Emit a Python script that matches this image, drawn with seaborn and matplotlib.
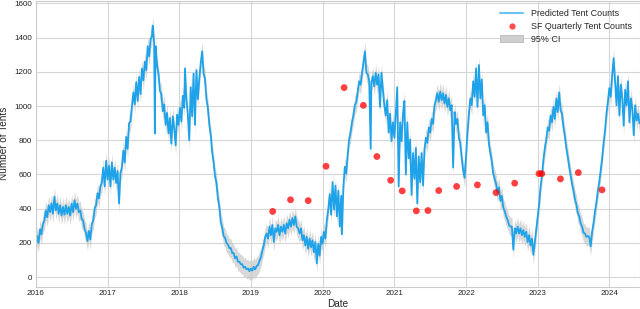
import matplotlib
matplotlib.use("Agg")
import matplotlib.pyplot as plt
import matplotlib.dates as mdates
from matplotlib.lines import Line2D
from matplotlib.patches import Patch
import seaborn as sns
import numpy as np
import pandas as pd

# ---- data ----
pred_years = [
    2016.00, 2016.02, 2016.04, 2016.06, 2016.08, 2016.10, 2016.12, 2016.14, 2016.16, 2016.18,
    2016.20, 2016.22, 2016.24, 2016.26, 2016.28, 2016.30, 2016.32, 2016.34, 2016.36, 2016.38,
    2016.40, 2016.42, 2016.44, 2016.46, 2016.48, 2016.50, 2016.52, 2016.54, 2016.56, 2016.58,
    2016.60, 2016.62, 2016.64, 2016.66, 2016.68, 2016.70, 2016.72, 2016.74, 2016.76, 2016.78,
    2016.80, 2016.82, 2016.84, 2016.86, 2016.88, 2016.90, 2016.92, 2016.94, 2016.96, 2016.98,
    2017.00, 2017.02, 2017.04, 2017.06, 2017.08, 2017.10, 2017.12, 2017.14, 2017.16, 2017.18,
    2017.20, 2017.22, 2017.24, 2017.26, 2017.28, 2017.30, 2017.32, 2017.34, 2017.36, 2017.38,
    2017.40, 2017.42, 2017.44, 2017.46, 2017.48, 2017.50, 2017.52, 2017.54, 2017.56, 2017.58,
    2017.60, 2017.62, 2017.63, 2017.65, 2017.66, 2017.67, 2017.69, 2017.71, 2017.73, 2017.75,
    2017.77, 2017.79, 2017.81, 2017.83, 2017.85, 2017.87, 2017.89, 2017.91, 2017.93, 2017.95,
    2017.97, 2017.99, 2018.01, 2018.03, 2018.05, 2018.07, 2018.08, 2018.10, 2018.12, 2018.14,
    2018.16, 2018.18, 2018.20, 2018.22, 2018.24, 2018.26, 2018.28, 2018.30, 2018.32, 2018.34,
    2018.36, 2018.38, 2018.40, 2018.42, 2018.44, 2018.46, 2018.48, 2018.50, 2018.52, 2018.54,
    2018.56, 2018.58, 2018.60, 2018.62, 2018.64, 2018.66, 2018.68, 2018.70, 2018.72, 2018.74,
    2018.76, 2018.78, 2018.80, 2018.82, 2018.84, 2018.86, 2018.88, 2018.90, 2018.92, 2018.94,
    2018.96, 2018.98, 2019.00, 2019.02, 2019.04, 2019.06, 2019.08, 2019.10, 2019.12, 2019.14,
    2019.16, 2019.18, 2019.20, 2019.22, 2019.24, 2019.26, 2019.28, 2019.30, 2019.32, 2019.34,
    2019.36, 2019.38, 2019.40, 2019.42, 2019.44, 2019.46, 2019.48, 2019.50, 2019.52, 2019.54,
    2019.56, 2019.58, 2019.60, 2019.62, 2019.64, 2019.66, 2019.68, 2019.70, 2019.72, 2019.74,
    2019.76, 2019.78, 2019.80, 2019.82, 2019.84, 2019.86, 2019.88, 2019.90, 2019.92, 2019.94,
    2019.96, 2019.98, 2020.00, 2020.02, 2020.04, 2020.06, 2020.08, 2020.10, 2020.12, 2020.14,
    2020.16, 2020.18, 2020.20, 2020.22, 2020.24, 2020.26, 2020.27, 2020.29, 2020.31, 2020.33,
    2020.35, 2020.37, 2020.39, 2020.41, 2020.43, 2020.45, 2020.47, 2020.49, 2020.51, 2020.53,
    2020.55, 2020.57, 2020.59, 2020.61, 2020.63, 2020.65, 2020.67, 2020.68, 2020.70, 2020.72,
    2020.74, 2020.76, 2020.78, 2020.80, 2020.82, 2020.84, 2020.86, 2020.88, 2020.90, 2020.92,
    2020.94, 2020.96, 2020.98, 2021.00, 2021.02, 2021.04, 2021.06, 2021.08, 2021.10, 2021.12,
    2021.14, 2021.16, 2021.18, 2021.20, 2021.22, 2021.24, 2021.26, 2021.28, 2021.30, 2021.32,
    2021.34, 2021.36, 2021.38, 2021.40, 2021.42, 2021.44, 2021.46, 2021.48, 2021.50, 2021.52,
    2021.54, 2021.56, 2021.58, 2021.60, 2021.62, 2021.64, 2021.66, 2021.68, 2021.70, 2021.72,
    2021.74, 2021.76, 2021.78, 2021.80, 2021.82, 2021.84, 2021.86, 2021.88, 2021.90, 2021.92,
    2021.94, 2021.96, 2021.98, 2022.00, 2022.02, 2022.04, 2022.06, 2022.08, 2022.10, 2022.12,
    2022.14, 2022.16, 2022.18, 2022.20, 2022.22, 2022.24, 2022.26, 2022.28, 2022.30, 2022.32,
    2022.34, 2022.36, 2022.38, 2022.40, 2022.42, 2022.44, 2022.46, 2022.48, 2022.50, 2022.52,
    2022.54, 2022.56, 2022.58, 2022.60, 2022.62, 2022.64, 2022.66, 2022.68, 2022.70, 2022.72,
    2022.74, 2022.76, 2022.78, 2022.80, 2022.82, 2022.84, 2022.86, 2022.88, 2022.90, 2022.92,
    2022.94, 2022.96, 2022.98, 2023.00, 2023.02, 2023.04, 2023.06, 2023.08, 2023.10, 2023.12,
    2023.14, 2023.16, 2023.18, 2023.20, 2023.22, 2023.24, 2023.26, 2023.28, 2023.30, 2023.32,
    2023.34, 2023.36, 2023.38, 2023.40, 2023.42, 2023.44, 2023.46, 2023.48, 2023.50, 2023.52,
    2023.54, 2023.56, 2023.58, 2023.60, 2023.62, 2023.64, 2023.66, 2023.68, 2023.70, 2023.72,
    2023.74, 2023.76, 2023.78, 2023.80, 2023.82, 2023.84, 2023.86, 2023.88, 2023.90, 2023.92,
    2023.94, 2023.96, 2023.98, 2024.00, 2024.02, 2024.04, 2024.06, 2024.08, 2024.10, 2024.12,
    2024.14, 2024.16, 2024.18, 2024.20, 2024.22, 2024.24, 2024.26, 2024.28, 2024.30, 2024.32,
    2024.34, 2024.36, 2024.38, 2024.40, 2024.42,
]
pred_values = [
    175, 240, 200, 280, 250, 310, 330, 390, 350, 420,
    380, 430, 370, 470, 390, 430, 370, 420, 360, 410,
    365, 420, 370, 410, 360, 430, 380, 450, 400, 430,
    380, 390, 340, 330, 280, 260, 210, 270, 220, 310,
    330, 400, 420, 490, 460, 530, 550, 640, 530, 680,
    570, 650, 530, 670, 570, 640, 550, 620, 430, 610,
    640, 740, 670, 820, 750, 900, 910, 1000, 1080, 1010,
    1140, 1030, 1170, 1070, 1220, 1150, 1260, 1210, 1350, 1290,
    1390, 1410, 1470, 1370, 840, 1350, 1240, 1190, 1090, 1070,
    970, 1010, 890, 960, 840, 930, 780, 940, 870, 770,
    950, 890, 990, 910, 1060, 990, 1220, 1040, 950, 800,
    1110, 940, 1190, 890, 1210, 1040, 1160, 1250, 1320, 1190,
    1160, 1040, 990, 890, 830, 730, 670, 590, 550, 460,
    410, 320, 290, 240, 230, 200, 190, 170, 170, 140,
    140, 110, 120, 90, 90, 75, 75, 55, 60, 45,
    50, 35, 50, 38, 60, 45, 65, 70, 95, 115,
    155, 185, 235, 255, 225, 295, 245, 305, 205, 285,
    265, 305, 245, 295, 265, 305, 255, 315, 285, 335,
    295, 345, 305, 355, 295, 285, 255, 285, 215, 245,
    185, 235, 165, 225, 175, 215, 145, 205, 80, 195,
    125, 235, 195, 265, 225, 335, 395, 485, 365, 555,
    395, 535, 355, 505, 295, 475, 250, 525, 645, 605,
    715, 805, 845, 905, 945, 1005, 1025, 1085, 1145, 1125,
    1195, 1255, 1320, 1195, 1185, 1145, 750, 1135, 1175, 1115,
    1195, 1125, 1185, 995, 1195, 1095, 1005, 945, 1035, 845,
    955, 795, 905, 815, 955, 1110, 530, 905, 795, 955,
    1030, 600, 905, 695, 805, 480, 725, 575, 755, 430,
    705, 555, 725, 535, 745, 815, 785, 875, 845, 925,
    895, 1005, 1035, 1075, 1025, 1085, 1035, 1075, 1015, 1065,
    995, 1045, 975, 1005, 640, 965, 895, 925, 815, 785,
    695, 625, 580, 705, 845, 955, 1045, 1005, 1145, 1055,
    1220, 995, 1240, 1045, 1155, 945, 1005, 845, 905, 775,
    725, 675, 605, 575, 545, 495, 525, 445, 475, 405,
    385, 355, 335, 305, 295, 295, 160, 285, 255, 295,
    255, 285, 245, 275, 235, 265, 205, 245, 185, 225,
    130, 205, 275, 355, 425, 525, 595, 685, 755, 805,
    875, 855, 945, 905, 995, 925, 1045, 965, 1080, 975,
    955, 875, 825, 755, 705, 645, 595, 545, 505, 455,
    425, 375, 355, 315, 295, 260, 255, 235, 240, 235,
    180, 265, 315, 385, 435, 505, 555, 625, 695, 785,
    855, 955, 1025, 1105, 1055, 1185, 1280, 1145, 1005, 1175,
    945, 1125, 1045, 885, 1095, 1005, 1145, 905, 1045, 985,
    830, 1005, 915, 955, 900,
]
ci_halfwidth = 55

obs_dates = [
    "2019-04-22", "2019-07-22", "2019-10-20", "2020-01-19", "2020-04-20",
    "2020-07-27", "2020-10-04", "2020-12-13", "2021-02-10", "2021-04-23",
    "2021-06-21", "2021-08-15", "2021-11-14", "2022-02-28", "2022-06-03",
    "2022-09-06", "2023-01-08", "2023-01-22", "2023-04-27", "2023-07-27",
    "2023-11-25",
]
obs_values = [
    384, 452, 447, 648, 1108,
    1004, 705, 566, 504, 387,
    389, 506, 530, 539, 494,
    549, 605, 605, 574, 611,
    510,
]

labels = ["Predicted Tent Counts", "SF Quarterly Tent Counts", "95% CI"]
y_ticks = [0, 200, 400, 600, 800, 1000, 1200, 1400, 1600]


def frac_year_to_date(y):
    yr = int(np.floor(y))
    start = pd.Timestamp(year=yr, month=1, day=1)
    end = pd.Timestamp(year=yr + 1, month=1, day=1)
    return start + (end - start) * (y - yr)


pred_df = pd.DataFrame({
    "Date": [frac_year_to_date(v) for v in pred_years],
    "Tents": pred_values,
})
obs_df = pd.DataFrame({"Date": pd.to_datetime(obs_dates), "Tents": obs_values})

# ---- style ----
sns.set_style("whitegrid", {"grid.color": "#d6d6d6", "axes.edgecolor": "#cccccc"})
plt.rcParams["font.family"] = ["Liberation Sans", "DejaVu Sans"]

fig = plt.figure(figsize=(6.4, 3.09), dpi=100)
ax = fig.add_axes([0.0558, 0.0712, 0.9435, 0.9265])

line_color = "#1ea3ea"
ax.fill_between(pred_df["Date"],
                pred_df["Tents"] - ci_halfwidth,
                pred_df["Tents"] + ci_halfwidth,
                color="#c4c4c4", alpha=0.65, linewidth=0, zorder=1)
sns.lineplot(data=pred_df, x="Date", y="Tents", ax=ax, color=line_color,
             linewidth=1.3, zorder=2, legend=False)
sns.scatterplot(data=obs_df, x="Date", y="Tents", ax=ax, color="red",
                alpha=0.75, s=24, edgecolor="none", zorder=3, legend=False)

ax.set_xlim(pd.Timestamp("2016-01-01"), pd.Timestamp("2024-06-03"))
ax.set_ylim(-58, 1616)
ax.set_yticks(y_ticks)
ax.xaxis.set_major_locator(mdates.YearLocator())
ax.xaxis.set_major_formatter(mdates.DateFormatter("%Y"))
ax.tick_params(axis="both", labelsize=5.8, colors="#222222", pad=2.5, length=0)
ax.set_xlabel("Date", fontsize=7.2, labelpad=1)
ax.set_ylabel("Number of Tents", fontsize=7.2, labelpad=4)

handles = [
    Line2D([0], [0], color="#6ac4f2", linewidth=1.5),
    Line2D([0], [0], marker="o", linestyle="none", markerfacecolor="red",
           markeredgecolor="none", alpha=0.7, markersize=4.5),
    Patch(facecolor="#cfcfcf", edgecolor="#b0b0b0", linewidth=0.5),
]
ax.legend(handles, labels, loc="upper right", frameon=False, fontsize=6.4,
          handlelength=2.6, labelspacing=0.45, borderaxespad=0.5)

fig.savefig("out.png", dpi=100)
